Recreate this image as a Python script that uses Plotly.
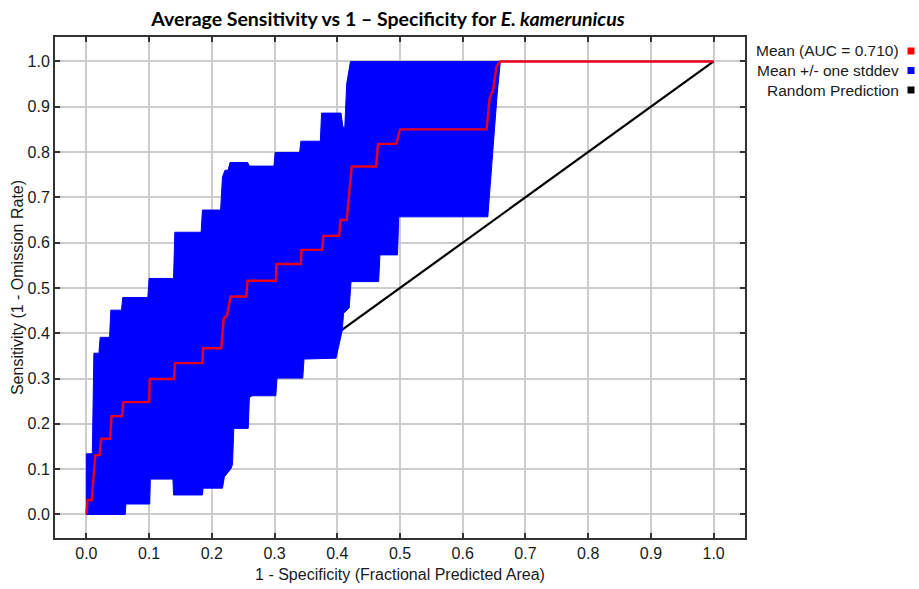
import plotly.graph_objects as go

# ---------------- data ----------------
mean_x = [0.0, 0.002, 0.0085, 0.0143, 0.021, 0.0237, 0.038, 0.040, 0.057, 0.059,
          0.100, 0.101, 0.140, 0.141, 0.185, 0.186, 0.215, 0.219, 0.224, 0.230,
          0.255, 0.257, 0.302, 0.303, 0.342, 0.343, 0.376, 0.378, 0.403, 0.405,
          0.415, 0.418, 0.423, 0.462, 0.465, 0.494, 0.500, 0.638, 0.643, 0.648,
          0.654, 0.660, 1.0]
mean_y = [0.0, 0.032, 0.032, 0.131, 0.131, 0.167, 0.167, 0.217, 0.217, 0.248,
          0.248, 0.299, 0.299, 0.334, 0.334, 0.367, 0.367, 0.433, 0.438, 0.481,
          0.481, 0.516, 0.516, 0.553, 0.553, 0.584, 0.584, 0.615, 0.615, 0.650,
          0.650, 0.700, 0.768, 0.768, 0.818, 0.818, 0.850, 0.850, 0.920, 0.935,
          0.990, 1.0, 1.0]

upper_x = [0.0, 0.0, 0.0095, 0.012, 0.020, 0.022, 0.037, 0.039, 0.056, 0.058,
           0.098, 0.100, 0.139, 0.141, 0.183, 0.185, 0.214, 0.217, 0.221, 0.226,
           0.229, 0.257, 0.260, 0.299, 0.301, 0.340, 0.342, 0.373, 0.375, 0.406,
           0.409, 0.412, 0.415, 0.421, 1.0]
upper_y = [0.0, 0.134, 0.134, 0.356, 0.356, 0.391, 0.391, 0.451, 0.451, 0.479,
           0.479, 0.521, 0.521, 0.623, 0.623, 0.672, 0.672, 0.745, 0.760, 0.760,
           0.777, 0.777, 0.769, 0.769, 0.799, 0.799, 0.824, 0.824, 0.886, 0.886,
           0.855, 0.855, 0.950, 1.0, 1.0]

lower_x = [0.0, 0.062, 0.063, 0.101, 0.102, 0.138, 0.139, 0.185, 0.186, 0.217,
           0.220, 0.230, 0.233, 0.235, 0.258, 0.260, 0.302, 0.304, 0.345, 0.347,
           0.398, 0.408, 0.410, 0.419, 0.422, 0.466, 0.468, 0.496, 0.498, 0.640,
           0.648, 0.655, 0.660, 1.0]
lower_y = [0.0, 0.0, 0.023, 0.023, 0.078, 0.078, 0.043, 0.043, 0.058, 0.058,
           0.083, 0.100, 0.110, 0.190, 0.190, 0.262, 0.262, 0.301, 0.301, 0.343,
           0.345, 0.407, 0.444, 0.456, 0.514, 0.514, 0.573, 0.573, 0.657, 0.657,
           0.800, 0.930, 1.0, 1.0]

random_x = [0.0, 1.0]
random_y = [0.0, 1.0]

tick_vals = [0.0, 0.1, 0.2, 0.3, 0.4, 0.5, 0.6, 0.7, 0.8, 0.9, 1.0]

legend_labels = ["Mean (AUC = 0.710)", "Mean +/- one stddev", "Random Prediction"]
legend_colors = ["#ff0000", "#0000ff", "#000000"]

# ---------------- figure ----------------
W, H = 919, 589
ML, MR, MT, MB = 55, 174, 37, 51
PW, PH = W - ML - MR, H - MT - MB

fig = go.Figure()

fig.add_trace(go.Scatter(x=random_x, y=random_y, mode="lines",
                         line=dict(color="#000000", width=2.2),
                         hoverinfo="skip", showlegend=False))

band_x = upper_x + lower_x[::-1]
band_y = upper_y + lower_y[::-1]
fig.add_trace(go.Scatter(x=band_x, y=band_y, mode="lines", fill="toself",
                         fillcolor="#0000ff", line=dict(color="#0000ff", width=1),
                         hoverinfo="skip", showlegend=False))

fig.add_trace(go.Scatter(x=mean_x, y=mean_y, mode="lines",
                         line=dict(color="#e8001e", width=2.4),
                         hoverinfo="skip", showlegend=False))

FONT = "Liberation Sans, Arial, sans-serif"
tick_font = dict(family=FONT, size=16, color="#1a1a1a")
axis_common = dict(
    showgrid=True, gridcolor="#cccccc", gridwidth=1.5,
    zeroline=False, showline=True, linecolor="#333333", linewidth=2,
    mirror="ticks", ticks="inside", ticklen=5, tickwidth=2, tickcolor="#333333",
    tickvals=tick_vals, tickformat=".1f", tickfont=tick_font, automargin=False,
)

fig.update_xaxes(range=[-0.05, 1.05],
                 title=dict(text="1 - Specificity (Fractional Predicted Area)",
                            font=tick_font, standoff=8),
                 **axis_common)
fig.update_yaxes(range=[-0.052, 1.054],
                 title=dict(text="Sensitivity (1 - Omission Rate)",
                            font=tick_font, standoff=0),
                 **axis_common)

# legend drawn at the right: text right-aligned, coloured square to its right
leg_text_px = 901
leg_sq_px = 911
leg_rows_py = [51, 70.5, 90]
SQ = 3.5
for lab, col, py in zip(legend_labels, legend_colors, leg_rows_py):
    yp = (H - MB - py) / PH
    fig.add_annotation(x=(leg_text_px - ML) / PW, y=yp, xref="paper", yref="paper",
                       text=lab, showarrow=False, xanchor="right", yanchor="middle",
                       font=dict(family=FONT, size=15.5, color="#1a1a1a"))
    fig.add_shape(type="rect", xref="paper", yref="paper", layer="above",
                  x0=(leg_sq_px - SQ - ML) / PW, x1=(leg_sq_px + SQ - ML) / PW,
                  y0=yp - SQ / PH, y1=yp + SQ / PH,
                  fillcolor=col, line=dict(width=0))

fig.update_layout(
    width=W, height=H,
    margin=dict(l=ML, r=MR, t=MT, b=MB),
    paper_bgcolor="#ffffff", plot_bgcolor="#ffffff",
    title=dict(text="<b>Average Sensitivity vs 1 – Specificity for <i>E. kamerunicus</i></b>",
               x=388 / W, xref="container", xanchor="center",
               y=1 - 19 / H, yref="container", yanchor="middle",
               font=dict(family="Lato, Open Sans, sans-serif", size=19.5, color="#000000")),
    showlegend=False,
)

fig.write_html("out.html",
               config={"displayModeBar": False},
               post_script="document.body.style.margin='0';"
                           "document.body.style.overflow='hidden';")
